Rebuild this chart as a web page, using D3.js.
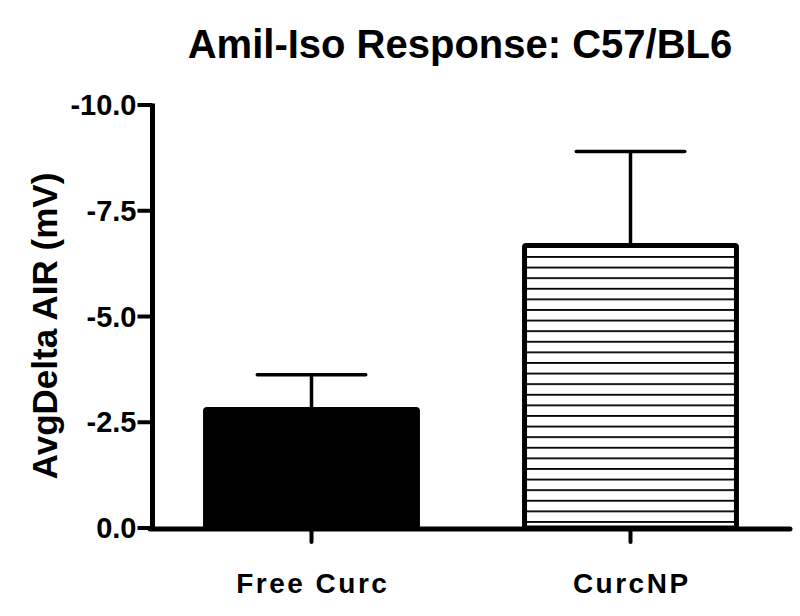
<!DOCTYPE html>
<html>
<head>
<meta charset="utf-8">
<script src="https://cdn.jsdelivr.net/npm/d3@7"></script>
<style>
  body { margin: 0; background: #fff; }
  svg { display: block; font-family: "Liberation Sans", Arial, sans-serif; font-weight: bold; }
</style>
</head>
<body>
<svg id="chart" width="800" height="616"></svg>
<script>
// chart values
const groups = ['Free Curc', 'CurcNP'];
const means = [-2.80, -6.68];
const errTops = [-3.62, -8.90];
const yTicks = [0, -2.5, -5, -7.5, -10];
const fills = ['solid', 'hatch'];

const svg = d3.select('#chart');

const x = d3.scaleBand()
    .domain(groups)
    .range([152, 790])
    .paddingInner(0.32)
    .paddingOuter(0.16);

const y = d3.scaleLinear()
    .domain([0, -10])
    .range([528, 105]);

// plain hyphen instead of d3's unicode minus
const fmt = d => d3.format('.1f')(d).replace('\u2212', '-');

// horizontal line pattern for the second bar
const defs = svg.append('defs');
const pat = defs.append('pattern')
    .attr('id', 'hlines')
    .attr('patternUnits', 'userSpaceOnUse')
    .attr('width', 20)
    .attr('height', 10.6)
    .attr('patternTransform', `translate(0,${y(means[1])})`);
pat.append('rect').attr('width', 20).attr('height', 10.6).attr('fill', '#fff');
pat.append('line')
    .attr('x1', 0).attr('x2', 20)
    .attr('y1', 0).attr('y2', 0)
    .attr('stroke', '#000')
    .attr('stroke-width', 3.6);

// bars
const data = groups.map((g, i) => ({ g, mean: means[i], top: errTops[i], fill: fills[i] }));

svg.selectAll('.bar')
    .data(data)
    .enter().append('rect')
    .attr('class', 'bar')
    .attr('x', d => x(d.g) + 2.5)
    .attr('width', x.bandwidth() - 5)
    .attr('y', d => y(d.mean))
    .attr('height', d => y(0) - y(d.mean))
    .attr('rx', 1.5)
    .attr('fill', d => d.fill === 'solid' ? '#000' : 'url(#hlines)')
    .attr('stroke', '#000')
    .attr('stroke-width', 5)
    .attr('stroke-linejoin', 'round');

// error bars (upper only)
const cx = d => x(d.g) + x.bandwidth() / 2;
svg.selectAll('.stem')
    .data(data)
    .enter().append('line')
    .attr('x1', cx).attr('x2', cx)
    .attr('y1', d => y(d.mean))
    .attr('y2', d => y(d.top))
    .attr('stroke', '#000')
    .attr('stroke-width', 3.5);

svg.selectAll('.cap')
    .data(data)
    .enter().append('line')
    .attr('x1', d => cx(d) - x.bandwidth() / 4)
    .attr('x2', d => cx(d) + x.bandwidth() / 4)
    .attr('y1', d => y(d.top))
    .attr('y2', d => y(d.top))
    .attr('stroke', '#000')
    .attr('stroke-width', 3.5)
    .attr('stroke-linecap', 'round');

// y axis
const yAxis = svg.append('g').attr('transform', 'translate(152.5,0)');
yAxis.append('line')
    .attr('x1', 0).attr('x2', 0)
    .attr('y1', y(-10) - 1.5).attr('y2', y(0) + 2.5)
    .attr('stroke', '#000').attr('stroke-width', 5);

const yt = yAxis.selectAll('.ytick')
    .data(yTicks)
    .enter().append('g')
    .attr('transform', d => `translate(0,${y(d)})`);
yt.append('line')
    .attr('x1', -15).attr('x2', 0)
    .attr('stroke', '#000').attr('stroke-width', 4);
yt.append('text')
    .attr('x', -16)
    .attr('dy', '0.35em')
    .attr('text-anchor', 'end')
    .attr('font-size', 29)
    .text(fmt);

// x axis
svg.append('line')
    .attr('x1', 150).attr('x2', 790)
    .attr('y1', y(0) + 1).attr('y2', y(0) + 1)
    .attr('stroke', '#000').attr('stroke-width', 5)
    .attr('stroke-linecap', 'round');

svg.selectAll('.xtick')
    .data(groups)
    .enter().append('line')
    .attr('x1', d => x(d) + x.bandwidth() / 2)
    .attr('x2', d => x(d) + x.bandwidth() / 2)
    .attr('y1', y(0) + 2)
    .attr('y2', y(0) + 14)
    .attr('stroke', '#000').attr('stroke-width', 4)
    .attr('stroke-linecap', 'round');

svg.selectAll('.xlabel')
    .data(groups)
    .enter().append('text')
    .attr('x', d => x(d) + x.bandwidth() / 2 + 1.25)
    .attr('y', 593)
    .attr('text-anchor', 'middle')
    .attr('font-size', 28)
    .attr('letter-spacing', 2.5)
    .text(d => d);

// title and axis label
svg.append('text')
    .attr('x', 460)
    .attr('y', 58)
    .attr('text-anchor', 'middle')
    .attr('font-size', 40)
    .text('Amil-Iso Response: C57/BL6');

svg.append('text')
    .attr('transform', 'translate(57,326) rotate(-90)')
    .attr('text-anchor', 'middle')
    .attr('font-size', 35)
    .text('AvgDelta AIR (mV)');
</script>
</body>
</html>
